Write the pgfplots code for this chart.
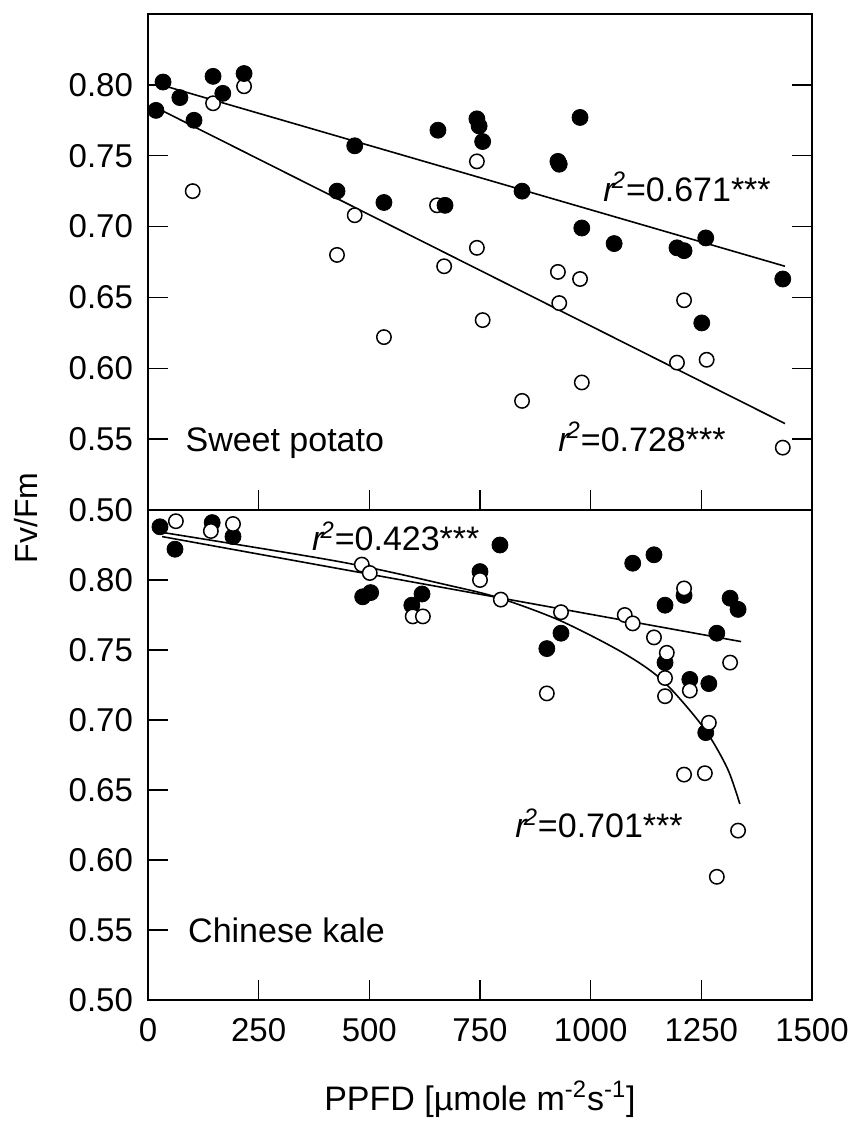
\documentclass[border=0pt]{standalone}
\usepackage{fontspec}
\setmainfont{Liberation Sans}
\usepackage{pgfplots}
\pgfplotsset{compat=1.18}

\newcommand{\rsq}[1]{\textit{r}\kern-0.12em\textsuperscript{\textit{2}}=#1***}

\pgfplotsset{
  panel/.style={
    scale only axis, width=332pt,
    xmin=0, xmax=1500, ymin=0.5, ymax=0.85,
    axis line style={line width=1.1pt},
    tick style={line width=0.7pt, black},
    major tick length=10pt, tick align=inside,
    xtick={0,250,500,750,1000,1250,1500},
    ytick={0.5,0.55,0.6,0.65,0.7,0.75,0.8},
    yticklabel style={xshift=-4pt, /pgf/number format/fixed,
      /pgf/number format/fixed zerofill, /pgf/number format/precision=2},
    xticklabel style={/pgf/number format/set thousands separator={}},
    /pgf/number format/assume math mode=true,
    tick label style={font=\fontsize{16.5}{18}\selectfont},
    clip=false,
  },
  filled/.style={only marks, mark=*, mark size=4pt, mark options={fill=black, draw=black}},
  open/.style={only marks, mark=*, mark size=3.6pt, mark options={fill=white, draw=black, line width=0.75pt}},
  regline/.style={black, line width=0.8pt, no marks},
}
\tikzset{lab/.style={font=\fontsize{17}{20}\selectfont, anchor=base west, inner sep=0pt}}

\begin{document}
\begin{tikzpicture}
\path[use as bounding box] (-74pt,-63pt) rectangle (352.5pt,500pt);

% Sweet potato (upper panel)
\begin{axis}[panel, at={(0pt,245pt)}, anchor=south west, height=248pt,
  xtick pos=bottom, xticklabels={}, ytick pos=both, yticklabel pos=left]
\addplot[open] coordinates {
 (101,0.725) (147,0.787) (217,0.799) (427,0.680) (467,0.708) (533,0.622)
 (653,0.715) (669,0.672) (743,0.746) (743,0.685) (756,0.634) (845,0.577)
 (926,0.668) (929,0.646) (976,0.663) (980,0.590) (1195,0.604) (1211,0.648)
 (1262,0.606) (1434,0.544)
};
\addplot[filled] coordinates {
 (18,0.782) (34,0.802) (72,0.791) (104,0.775) (147,0.806) (169,0.794)
 (217,0.808) (427,0.725) (467,0.757) (533,0.717) (655,0.768) (671,0.715)
 (743,0.776) (748,0.771) (756,0.760) (845,0.725) (926,0.746) (929,0.744)
 (976,0.777) (980,0.699) (1053,0.688) (1195,0.685) (1211,0.683) (1260,0.692)
 (1251,0.632) (1434,0.663)
};
\addplot[regline] coordinates {(18,0.801) (1439,0.672)};
\addplot[regline] coordinates {(18,0.784) (1439,0.561)};
\node[lab] at (axis cs:1028,0.718) {\rsq{0.671}};
\node[lab] at (axis cs:926,0.5416) {\rsq{0.728}};
\node[lab] at (axis cs:84,0.541) {Sweet potato};
\end{axis}

% Chinese kale (lower panel)
\begin{axis}[panel, at={(0pt,0pt)}, anchor=south west, height=245pt,
  xtick pos=bottom, ytick pos=left,
  xticklabel style={yshift=-5.5pt}]
\addplot[filled] coordinates {
 (27,0.838) (61,0.822) (145,0.841) (192,0.831) (485,0.788) (503,0.791)
 (596,0.782) (619,0.790) (750,0.806) (795,0.825) (901,0.751) (933,0.762)
 (1095,0.812) (1143,0.818) (1168,0.782) (1168,0.741) (1211,0.789) (1224,0.729)
 (1267,0.726) (1260,0.691) (1285,0.762) (1315,0.787) (1333,0.779)
};
\addplot[open] coordinates {
 (63,0.842) (142,0.835) (192,0.840) (483,0.811) (501,0.805) (598,0.774)
 (621,0.774) (750,0.800) (797,0.786) (901,0.719) (933,0.777) (1077,0.775)
 (1095,0.769) (1143,0.759) (1172,0.748) (1168,0.730) (1168,0.717) (1211,0.794)
 (1224,0.721) (1211,0.661) (1258,0.662) (1267,0.698) (1285,0.588) (1315,0.741)
 (1333,0.621)
};
\addplot[regline] coordinates {(32,0.831) (1340,0.756)};
\addplot[regline, smooth] coordinates {
 (32,0.834) (434,0.813) (682,0.796) (795,0.787) (931,0.771) (1073,0.748)
 (1163,0.728) (1254,0.695) (1308,0.666) (1337,0.640)
};
\node[lab] at (axis cs:370,0.821) {\rsq{0.423}};
\node[lab] at (axis cs:829,0.616) {\rsq{0.701}};
\node[lab] at (axis cs:90,0.541) {Chinese kale};
\end{axis}

\node[rotate=90, font=\fontsize{16}{18}\selectfont] at (-61pt,241pt) {Fv/Fm};
\node[anchor=base, font=\fontsize{17}{20}\selectfont] at (166pt,-55pt)
  {PPFD [µmole m\textsuperscript{-2}s\textsuperscript{-1}]};
\end{tikzpicture}
\end{document}
